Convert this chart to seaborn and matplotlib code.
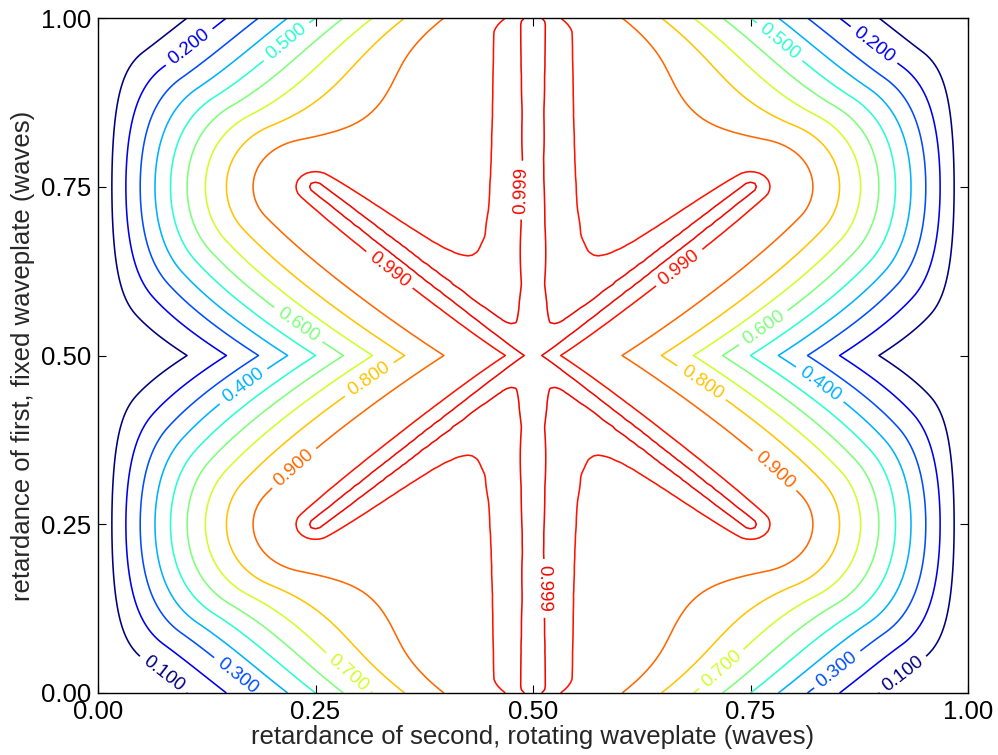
import numpy as np
import matplotlib
matplotlib.use("Agg")
import matplotlib.pyplot as plt
from matplotlib.colors import Normalize
import seaborn as sns

# ---------------- data ----------------
contour_levels = [0.1, 0.2, 0.3, 0.4, 0.5, 0.6, 0.7, 0.8, 0.9, 0.99, 0.999]
tick_values = [0.0, 0.25, 0.5, 0.75, 1.0]
tick_labels = ["0.00", "0.25", "0.50", "0.75", "1.00"]
x_label = "retardance of second, rotating waveplate (waves)"
y_label = "retardance of first, fixed waveplate (waves)"

# retardance grids (waves) and the angles scanned in the model
n_half = 101
half_retardance = np.linspace(0.0, 0.5, n_half)
rotation_angles = np.linspace(0.0, 2 * np.pi, 240, endpoint=False)
fixed_orientations = np.linspace(0.0, np.pi / 2, 46)

# contour-label placement (layout): level and approximate anchor point
label_levels = [0.1, 0.2, 0.3, 0.4, 0.5, 0.6, 0.7, 0.8, 0.9, 0.99, 0.999,
                0.1, 0.2, 0.3, 0.4, 0.5, 0.6, 0.7, 0.8, 0.9, 0.99, 0.999]
label_anchors = [
    (0.071, 0.022), (0.106, 0.953), (0.160, 0.022), (0.169, 0.452),
    (0.217, 0.967), (0.228, 0.545), (0.284, 0.025), (0.310, 0.467),
    (0.230, 0.323), (0.336, 0.627), (0.4885, 0.745),
    (0.928, 0.022), (0.891, 0.960), (0.853, 0.027), (0.830, 0.456),
    (0.786, 0.967), (0.763, 0.545), (0.718, 0.031), (0.698, 0.467),
    (0.772, 0.323), (0.673, 0.619), (0.516, 0.153),
]

# ------------- modulation-depth model -------------
# polarizer -> fixed retarder (orientation optimised) -> rotating retarder -> polarizer
W2h, W1h = np.meshgrid(half_retardance, half_retardance)
d1 = 2 * np.pi * W1h
d2 = 2 * np.pi * W2h
c1, s1 = np.cos(d1), np.sin(d1)
c2, s2 = np.cos(d2), np.sin(d2)
Bq = 0.5 * (1.0 - c2)
cos2p = np.cos(2 * rotation_angles)
sin2p = np.sin(2 * rotation_angles)
sinp = np.sin(rotation_angles)

best = np.zeros_like(d1)
for beta in fixed_orientations:
    cb, sb = np.cos(beta), np.sin(beta)
    q = c1 + cb * cb * (1.0 - c1)
    u = sb * cb * (1.0 - c1)
    v = -sb * s1
    g = ((Bq * q)[..., None] * cos2p + (Bq * u)[..., None] * sin2p
         + (v * s2)[..., None] * sinp)
    amp = 0.5 * (g.max(axis=-1) - g.min(axis=-1))
    np.maximum(best, amp, out=best)

# mirror the quarter to the full square (symmetry about 0.5 in both axes)
full_x = np.concatenate([best, best[:, -2::-1]], axis=1)
field = np.concatenate([full_x, full_x[-2::-1, :]], axis=0)
retardance = np.linspace(0.0, 1.0, 2 * n_half - 1)
X, Y = np.meshgrid(retardance, retardance)

# ---------------- style ----------------
sns.set_style("ticks")
plt.rcParams["font.family"] = ["Liberation Sans", "DejaVu Sans"]

norm = Normalize(vmin=0.1, vmax=1.1)
jet = matplotlib.colormaps["jet"]
line_colors = [jet(norm(lv)) for lv in contour_levels]

fig = plt.figure(figsize=(9.98, 7.55), dpi=100)
ax = fig.add_axes([98 / 998, 62 / 755, 870 / 998, 675 / 755])

cs = ax.contour(X, Y, field, levels=contour_levels, colors=line_colors,
                linewidths=1.15)

# snap each anchor onto its own contour level so the right line is labelled
manual_points = []
for lv, (ax_x, ax_y) in zip(label_levels, label_anchors):
    idx = contour_levels.index(lv)
    segs = [sg for sg in cs.allsegs[idx] if len(sg)]
    verts = np.concatenate(segs, axis=0)
    dist = ((verts[:, 0] - ax_x) * 870) ** 2 + ((verts[:, 1] - ax_y) * 675) ** 2
    px, py = verts[np.argmin(dist)]
    manual_points.append((px, py))

ax.clabel(cs, fmt="%1.3f", fontsize=13.5, inline=True, inline_spacing=6,
          manual=manual_points)

ax.set_xlim(0, 1)
ax.set_ylim(0, 1)
ax.set_xticks(tick_values)
ax.set_xticklabels(tick_labels)
ax.set_yticks(tick_values)
ax.set_yticklabels(tick_labels)
ax.tick_params(direction="in", top=True, right=True, length=6, width=0.8,
               labelsize=18.5, pad=5, colors="black")
for sp in ax.spines.values():
    sp.set_linewidth(1.0)
    sp.set_color("black")
ax.set_xlabel(x_label, fontsize=18.5, labelpad=1)
ax.set_ylabel(y_label, fontsize=18.5, labelpad=4)

fig.savefig("out.png", dpi=100)
